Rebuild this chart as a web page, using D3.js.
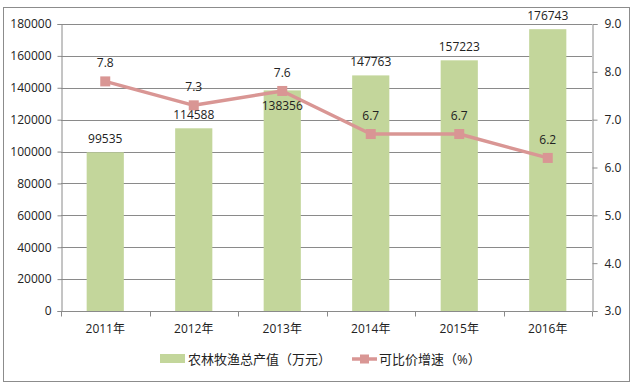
<!DOCTYPE html>
<html>
<head>
<meta charset="utf-8">
<script src="https://cdn.jsdelivr.net/npm/d3@7"></script>
<style>
  html, body { margin: 0; padding: 0; background: #fff; }
  svg { display: block; }
  text { font-family: "Open Sans", "Noto Sans CJK SC", sans-serif; fill: #222; }
</style>
</head>
<body>
<div id="chart"></div>
<script>
  // data
  const years = ['2011年', '2012年', '2013年', '2014年', '2015年', '2016年'];
  const output = [99535, 114588, 138356, 147763, 157223, 176743];
  const growth = [7.8, 7.3, 7.6, 6.7, 6.7, 6.2];
  const leftTicks = [0, 20000, 40000, 60000, 80000, 100000, 120000, 140000, 160000, 180000];
  const rightTicks = [3, 4, 5, 6, 7, 8, 9];
  const seriesNames = ['农林牧渔总产值（万元）', '可比价增速（%）'];

  const W = 634, H = 385;
  const margin = { top: 24, right: 42, bottom: 74, left: 61 };
  const BAR = '#c3d69b', LINE = '#d99694', GRID = '#8a8a8a';

  const svg = d3.select('#chart').append('svg')
    .attr('width', W).attr('height', H);

  // outer frame
  svg.append('rect')
    .attr('x', 3.5).attr('y', 7.5).attr('width', 626).attr('height', 374)
    .attr('fill', '#fff').attr('stroke', '#8c8c8c').attr('stroke-width', 1);

  const x = d3.scaleBand().domain(years)
    .range([margin.left, W - margin.right]);
  const yL = d3.scaleLinear().domain([0, 180000])
    .range([H - margin.bottom, margin.top]);
  const yR = d3.scaleLinear().domain([3, 9])
    .range([H - margin.bottom, margin.top]);

  // gridlines
  svg.append('g').selectAll('line').data(leftTicks.slice(1)).join('line')
    .attr('x1', margin.left).attr('x2', W - margin.right)
    .attr('y1', d => Math.round(yL(d)) + 0.5).attr('y2', d => Math.round(yL(d)) + 0.5)
    .attr('stroke', GRID).attr('stroke-width', 1);

  // bars
  const bw = x.bandwidth() * 0.42;
  svg.append('g').selectAll('rect').data(output).join('rect')
    .attr('x', (d, i) => x(years[i]) + (x.bandwidth() - bw) / 2)
    .attr('width', bw)
    .attr('y', d => yL(d))
    .attr('height', d => yL(0) - yL(d))
    .attr('fill', BAR);

  // axes
  const axL = svg.append('g')
    .attr('transform', 'translate(' + (margin.left + 0.5) + ',0)')
    .call(d3.axisLeft(yL).tickValues(leftTicks).tickSize(4).tickPadding(6).tickFormat(d3.format('d')));
  const axR = svg.append('g')
    .attr('transform', 'translate(' + (W - margin.right + 0.5) + ',0)')
    .call(d3.axisRight(yR).tickValues(rightTicks).tickSize(5).tickPadding(7).tickFormat(d3.format('.1f')));
  const axB = svg.append('g')
    .attr('transform', 'translate(0,' + (Math.round(yL(0)) + 0.5) + ')')
    .call(d3.axisBottom(x).tickSize(0).tickPadding(13));

  // bottom tick marks at category boundaries
  const bounds = years.map(d => x(d)).concat([x.range()[1]]);
  axB.selectAll('.bound').data(bounds).join('line')
    .attr('class', 'bound')
    .attr('x1', d => Math.round(d) + 0.5).attr('x2', d => Math.round(d) + 0.5)
    .attr('y1', 0).attr('y2', 5)
    .attr('stroke', GRID);

  [axL, axR, axB].forEach(a => {
    a.select('.domain').attr('stroke', GRID);
    a.selectAll('.tick line').attr('stroke', GRID);
    a.selectAll('text').attr('font-size', 12).attr('fill', '#222')
      .attr('font-family', '"Open Sans", "Noto Sans CJK SC", sans-serif');
  });
  axB.select('.domain').attr('d', 'M' + margin.left + ',0H' + (W - margin.right));

  const cx = i => x(years[i]) + x.bandwidth() / 2;

  // bar labels; when the line marker sits on a bar top, the label goes inside the bar
  svg.append('g').selectAll('text').data(output).join('text')
    .attr('x', (d, i) => cx(i))
    .attr('y', (d, i) => {
      const gap = yL(d) - yR(growth[i]);
      return Math.abs(gap) < 12 ? yL(d) + 20 : yL(d) - 9;
    })
    .attr('text-anchor', 'middle').attr('font-size', 12)
    .text(d => d);

  // line
  svg.append('path')
    .datum(growth)
    .attr('fill', 'none').attr('stroke', LINE).attr('stroke-width', 3.5)
    .attr('stroke-linejoin', 'round')
    .attr('d', d3.line().x((d, i) => cx(i)).y(d => yR(d)));

  svg.append('g').selectAll('rect').data(growth).join('rect')
    .attr('x', (d, i) => cx(i) - 5).attr('y', d => yR(d) - 5)
    .attr('width', 10).attr('height', 10)
    .attr('fill', LINE);

  svg.append('g').selectAll('text').data(growth).join('text')
    .attr('x', (d, i) => cx(i))
    .attr('y', d => yR(d) - 14)
    .attr('text-anchor', 'middle').attr('font-size', 12)
    .text(d => d.toFixed(1));

  // legend
  const lg = svg.append('g').attr('transform', 'translate(0,359)');
  lg.append('rect').attr('x', 160).attr('y', -5).attr('width', 25).attr('height', 9).attr('fill', BAR);
  lg.append('text').attr('x', 188).attr('y', 5).attr('font-size', 13)
    .attr('font-family', '"Noto Sans CJK SC", sans-serif').text(seriesNames[0]);
  lg.append('line').attr('x1', 352).attr('x2', 377).attr('y1', 0).attr('y2', 0)
    .attr('stroke', LINE).attr('stroke-width', 3.5);
  lg.append('rect').attr('x', 360).attr('y', -4.5).attr('width', 9).attr('height', 9).attr('fill', LINE);
  lg.append('text').attr('x', 379).attr('y', 5).attr('font-size', 13)
    .attr('font-family', '"Noto Sans CJK SC", sans-serif').text(seriesNames[1]);
</script>
</body>
</html>
